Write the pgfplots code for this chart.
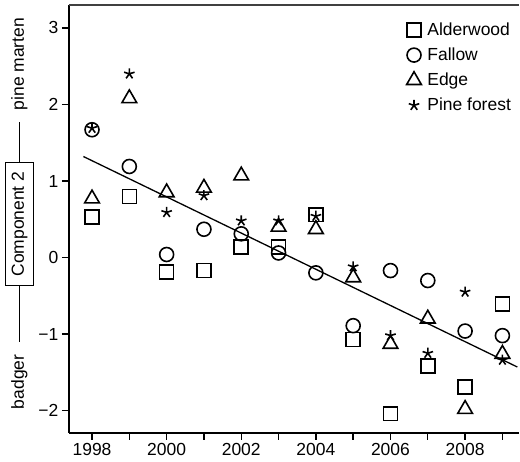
\documentclass[border=0pt]{standalone}
\usepackage{fontspec}
\setmainfont{Liberation Sans}
\usepackage{pgfplots}
\pgfplotsset{compat=1.18}
\newcommand{\bigf}{\fontsize{17.5}{21}\selectfont}
\begin{document}
\begin{tikzpicture}[font=\bigf]
\begin{axis}[
  scale only axis, width=451pt, height=428.5pt,
  xmin=1997.38, xmax=2009.45, ymin=-2.29, ymax=3.30,
  axis lines*=left, axis line style={line width=1.6pt,-},
  tick align=outside, major tick length=7pt,
  tick style={line width=1.4pt,black},
  xtick={1998,...,2009},
  xticklabels={1998,,2000,,2002,,2004,,2006,,2008,},
  ytick={-2,-1,0,1,2,3},
  yticklabels={−2,−1,0,1,2,3},
  tick label style={font=\bigf},
  clip=false,
  legend cell align=left,
  legend style={at={(rel axis cs:0.743,0.968)}, anchor=north west,
    draw=none, fill=none, row sep=7pt, font=\bigf,
    /tikz/every odd column/.append style={column sep=4pt}},
  every axis plot/.append style={line width=1.6pt, black},
]
\addplot[only marks, mark=square, mark size=7pt] coordinates {
(1998,0.53) (1999,0.80) (2000,-0.19) (2001,-0.17) (2002,0.14) (2003,0.14)
(2004,0.56) (2005,-1.07) (2006,-2.04) (2007,-1.42) (2008,-1.69) (2009,-0.61)};
\addlegendentry{Alderwood}
\addplot[only marks, mark=o, mark size=7pt] coordinates {
(1998,1.67) (1999,1.19) (2000,0.04) (2001,0.37) (2002,0.31) (2003,0.06)
(2004,-0.20) (2005,-0.89) (2006,-0.17) (2007,-0.30) (2008,-0.96) (2009,-1.02)};
\addlegendentry{Fallow}
\addplot[only marks, mark=triangle, mark size=8.5pt] coordinates {
(1998,0.77) (1999,2.08) (2000,0.85) (2001,0.91) (2002,1.07) (2003,0.40)
(2004,0.37) (2005,-0.26) (2006,-1.13) (2007,-0.80) (2008,-1.98) (2009,-1.26)};
\addlegendentry{Edge}
\addplot[only marks, mark=star, mark size=5.5pt] coordinates {
(1998,1.69) (1999,2.40) (2000,0.59) (2001,0.81) (2002,0.48) (2003,0.48)
(2004,0.54) (2005,-0.12) (2006,-1.02) (2007,-1.25) (2008,-0.45) (2009,-1.34)};
\addlegendentry{Pine forest}
\addplot[no marks, line width=1.3pt, forget plot] coordinates {(1997.77,1.32) (2009.40,-1.43)};
\draw[line width=1.6pt, black!75] (rel axis cs:0,1) -- (rel axis cs:1,1);
\path (rel axis cs:0,0.488) ++(-49.5pt,0pt) node[draw, line width=0.9pt, rotate=90, inner xsep=9pt, inner ysep=6pt, font=\bigf] (c2) {Component 2};
\draw[line width=0.9pt] (c2.east) -- ++(0pt,40pt);
\draw[line width=0.9pt] (c2.west) -- ++(0pt,-56pt);
\path (rel axis cs:0,0.862) ++(-49.5pt,0pt) node[rotate=90, font=\bigf] {pine marten};
\path (rel axis cs:0,0.119) ++(-49.5pt,0pt) node[rotate=90, font=\bigf] {badger};
\path (rel axis cs:0,1) ++(-69pt,5pt) coordinate (tl);
\path (rel axis cs:1,0) ++(0pt,-28.5pt) coordinate (br);
\end{axis}
\end{tikzpicture}
\end{document}
